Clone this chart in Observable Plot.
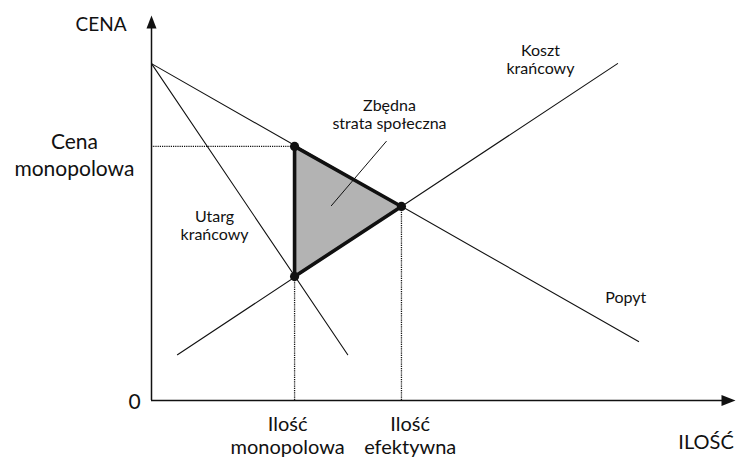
<!DOCTYPE html>
<html>
<head>
<meta charset="utf-8">
<script src="https://cdn.jsdelivr.net/npm/d3@7"></script>
<script src="https://cdn.jsdelivr.net/npm/@observablehq/plot@0.6"></script>
<style>
  html, body { margin: 0; padding: 0; background: #fff; }
  svg { font-family: Lato, "Open Sans", sans-serif; }
</style>
</head>
<body>
<div id="chart"></div>
<script>
// Economic values (quantity q, price p)
const demand = [{q: 0, p: 87.5}, {q: 83.4, p: 15.3}];
const marginalRevenue = [{q: 0, p: 87.5}, {q: 33.6, p: 11.9}];
const marginalCost = [{q: 4.45, p: 11.9}, {q: 79.8, p: 87.5}];
const monopolyQ = 24.5;
const monopolyP = 66;
const efficientQ = 42.8;
const efficientP = 50.4;
const mrAtMonopoly = 32.2;
const deadweight = [
  {q: monopolyQ, p: monopolyP},
  {q: efficientQ, p: efficientP},
  {q: monopolyQ, p: mrAtMonopoly}
];
const leader = [{q: 40.2, p: 67.3}, {q: 30.8, p: 50.6}];

// Labels
const bigLabels = [
  {q: -8.65, p: 96.1, text: "CENA", size: 19, lh: 1},
  {q: -13.2, p: 58.4, text: "Cena\nmonopolowa", size: 21, lh: 1.29},
  {q: -2.9, p: -2.1, text: "0", size: 21, lh: 1},
  {q: 23.3, p: -14.0, text: "Ilość\nmonopolowa", size: 20, lh: 1.16},
  {q: 44.3, p: -14.0, text: "Ilość\nefektywna", size: 20, lh: 1.16}
];
const smallLabels = [
  {q: 66.6, p: 84.7, text: "Koszt\nkrańcowy"},
  {q: 10.8, p: 41.8, text: "Utarg\nkrańcowy"},
  {q: 81.2, p: 25.2, text: "Popyt"},
  {q: 40.75, p: 70.6, text: "Zbędna\nstrata społeczna"}
];
const axisTitleX = [{q: 99.7, p: -12.5, text: "ILOŚĆ"}];

const upArrow = {draw(ctx) { ctx.moveTo(0, 0); ctx.lineTo(-5, 13); ctx.lineTo(5, 13); ctx.closePath(); }};
const rightArrow = {draw(ctx) { ctx.moveTo(0, 0); ctx.lineTo(-14, -5.5); ctx.lineTo(-14, 5.5); ctx.closePath(); }};

const ink = "#111";
const dotted = {stroke: ink, strokeWidth: 1.3, strokeDasharray: "1.2,1"};

const chart = Plot.plot({
  width: 739,
  height: 458,
  margin: 0,
  x: {domain: [0, 100], range: [151, 735], axis: null},
  y: {domain: [0, 100], range: [400, 15], axis: null},
  style: {background: "#fff", fontFamily: "Lato, 'Open Sans', sans-serif"},
  marks: [
    // dotted guides
    Plot.ruleY([monopolyP], {x1: 0, x2: monopolyQ, ...dotted}),
    Plot.ruleX([monopolyQ], {y1: 0, y2: mrAtMonopoly, ...dotted}),
    Plot.ruleX([efficientQ], {y1: 0, y2: efficientP, ...dotted}),
    // deadweight triangle
    Plot.line([...deadweight, deadweight[0]], {x: "q", y: "p", fill: "#b3b3b3", stroke: ink, strokeWidth: 3.6, strokeLinejoin: "round", curve: "linear"}),
    // curves
    Plot.line(demand, {x: "q", y: "p", stroke: ink, strokeWidth: 1.1}),
    Plot.line(marginalRevenue, {x: "q", y: "p", stroke: ink, strokeWidth: 1.1}),
    Plot.line(marginalCost, {x: "q", y: "p", stroke: ink, strokeWidth: 1.1}),
    Plot.line(leader, {x: "q", y: "p", stroke: ink, strokeWidth: 1}),
    // axes
    Plot.ruleX([0], {y1: 0, y2: 97, stroke: ink, strokeWidth: 1.5}),
    Plot.ruleY([0], {x1: 0, x2: 98, stroke: ink, strokeWidth: 1.5}),
    Plot.dot([{q: 0, p: 100}], {x: "q", y: "p", symbol: upArrow, fill: ink, stroke: "none"}),
    Plot.dot([{q: 100, p: 0}], {x: "q", y: "p", symbol: rightArrow, fill: ink, stroke: "none"}),
    // intersection points
    Plot.dot(deadweight, {x: "q", y: "p", r: 4.6, fill: ink, stroke: "none"}),
    // labels
    ...bigLabels.map(d => Plot.text([d], {x: "q", y: "p", text: "text", fontSize: d.size, lineHeight: d.lh, textAnchor: "middle", lineAnchor: "bottom", fill: ink})),
    Plot.text(smallLabels, {x: "q", y: "p", text: "text", fontSize: 16, lineHeight: 1.12, textAnchor: "middle", lineAnchor: "bottom", fill: ink}),
    Plot.text(axisTitleX, {x: "q", y: "p", text: "text", fontSize: 20, textAnchor: "end", lineAnchor: "bottom", fill: ink})
  ]
});
document.getElementById("chart").appendChild(chart);
</script>
</body>
</html>
